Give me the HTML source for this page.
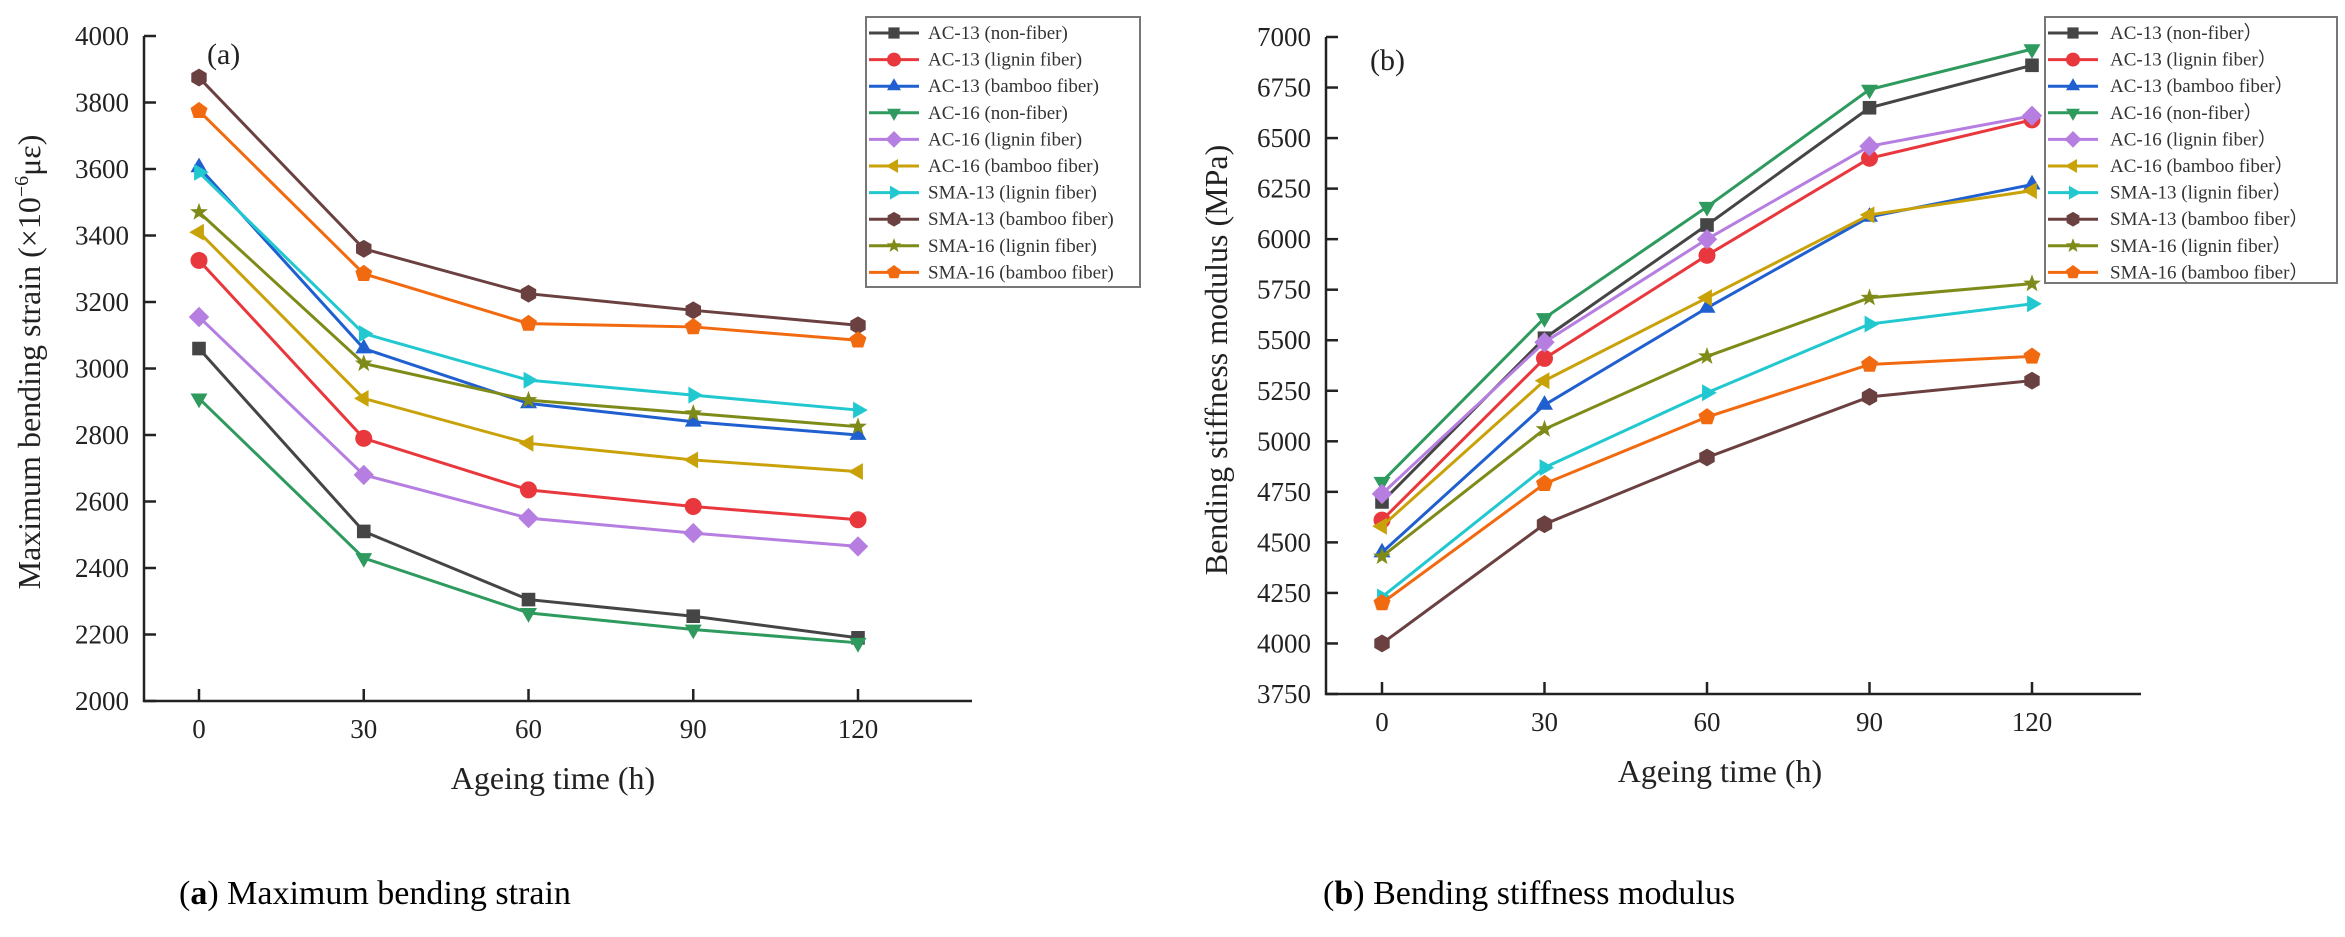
<!DOCTYPE html>
<html><head><meta charset="utf-8"><style>
html,body{margin:0;padding:0;background:#fff;}
svg{display:block;font-family:"Liberation Serif",serif;}
</style></head><body>
<svg id="fig" width="2345" height="937" viewBox="0 0 2345 937">
<g id="chartA"></g>
<g id="chartB"></g>
<text x="179" y="904" font-size="34">(<tspan font-weight="bold">a</tspan>) Maximum bending strain</text>
<text x="1323" y="904" font-size="34">(<tspan font-weight="bold">b</tspan>) Bending stiffness modulus</text>
</svg>
<script>
const xCats = [0, 30, 60, 90, 120];
const seriesNames = ["AC-13 (non-fiber)","AC-13 (lignin fiber)","AC-13 (bamboo fiber)","AC-16 (non-fiber)","AC-16 (lignin fiber)","AC-16 (bamboo fiber)","SMA-13 (lignin fiber)","SMA-13 (bamboo fiber)","SMA-16 (lignin fiber)","SMA-16 (bamboo fiber)"];
const seriesNamesB = ["AC-13 (non-fiber）","AC-13 (lignin fiber）","AC-13 (bamboo fiber）","AC-16 (non-fiber）","AC-16 (lignin fiber）","AC-16 (bamboo fiber）","SMA-13 (lignin fiber）","SMA-13 (bamboo fiber）","SMA-16 (lignin fiber）","SMA-16 (bamboo fiber）"];
const colors = ["#454545","#e8383d","#1f5fcf","#2e9a5e","#b57ee0","#c9a20a","#22c8d0","#6b4040","#7f8b18","#f26a10"];
const markers = ["square","circle","up","down","diamond","left","right","hexagon","star","pentagon"];
const strainAC13n = [3060,2510,2305,2255,2190];
const strainAC13l = [3325,2790,2635,2585,2545];
const strainAC13b = [3605,3060,2895,2840,2800];
const strainAC16n = [2910,2430,2265,2215,2175];
const strainAC16l = [3155,2680,2550,2505,2465];
const strainAC16b = [3410,2910,2775,2725,2690];
const strainSMA13l = [3590,3105,2965,2920,2875];
const strainSMA13b = [3875,3360,3225,3175,3130];
const strainSMA16l = [3470,3015,2905,2865,2825];
const strainSMA16b = [3775,3285,3135,3125,3085];
const modAC13n = [4700,5510,6070,6650,6860];
const modAC13l = [4610,5410,5920,6400,6590];
const modAC13b = [4450,5180,5660,6110,6270];
const modAC16n = [4800,5610,6160,6740,6940];
const modAC16l = [4740,5490,6000,6460,6610];
const modAC16b = [4580,5300,5710,6120,6240];
const modSMA13l = [4230,4870,5240,5580,5680];
const modSMA13b = [4000,4590,4920,5220,5300];
const modSMA16l = [4430,5060,5420,5710,5780];
const modSMA16b = [4200,4790,5120,5380,5420];
const ticksA = [2000,2200,2400,2600,2800,3000,3200,3400,3600,3800,4000];
const ticksB = [3750,4000,4250,4500,4750,5000,5250,5500,5750,6000,6250,6500,6750,7000];

const NS="http://www.w3.org/2000/svg";
function mk(parent,tag,attrs){const e=document.createElementNS(NS,tag);for(const k in attrs)e.setAttribute(k,attrs[k]);parent.appendChild(e);return e;}
function markerPath(type,cx,cy,r){
  const poly=(n,rot,rad)=>{let p=[];for(let i=0;i<n;i++){const a=rot+i*2*Math.PI/n;p.push((cx+rad*Math.cos(a)).toFixed(1)+","+(cy+rad*Math.sin(a)).toFixed(1));}return p.join(" ");};
  switch(type){
    case "square": return ["rect",{x:cx-r*0.8,y:cy-r*0.8,width:r*1.6,height:r*1.6}];
    case "circle": return ["circle",{cx:cx,cy:cy,r:r}];
    case "up": return ["polygon",{points:poly(3,-Math.PI/2,r*1.15)}];
    case "down": return ["polygon",{points:poly(3,Math.PI/2,r*1.15)}];
    case "left": return ["polygon",{points:poly(3,Math.PI,r*1.15)}];
    case "right": return ["polygon",{points:poly(3,0,r*1.15)}];
    case "diamond": return ["polygon",{points:poly(4,0,r*1.2)}];
    case "hexagon": return ["polygon",{points:poly(6,-Math.PI/2,r*1.05)}];
    case "pentagon": return ["polygon",{points:poly(5,-Math.PI/2,r*1.05)}];
    case "star": {let p=[];for(let i=0;i<10;i++){const a=-Math.PI/2+i*Math.PI/5;const rr=i%2?r*0.45:r*1.1;p.push((cx+rr*Math.cos(a)).toFixed(1)+","+(cy+rr*Math.sin(a)).toFixed(1));}return ["polygon",{points:p.join(" ")}];}
  }
}
function drawChart(g,cfg){
  const xs=v=>cfg.x0+(v-xCats[0])/(xCats[xCats.length-1]-xCats[0])*(cfg.x1-cfg.x0);
  const ys=v=>cfg.yBot-(v-cfg.yMin)/(cfg.yMax-cfg.yMin)*(cfg.yBot-cfg.yTop);
  const ax=mk(g,"path",{d:`M${cfg.axX},${cfg.yTop} L${cfg.axX},${cfg.yBot} L${cfg.axEnd},${cfg.yBot}`,fill:"none",stroke:"#222","stroke-width":2.5});
  
  
  cfg.ticks.forEach(t=>{
    const y=ys(t);
    mk(g,"line",{x1:cfg.axX,x2:cfg.axX+12,y1:y,y2:y,stroke:"#222","stroke-width":2.5});
    const tl=mk(g,"text",{x:cfg.axX-15,y:y+9,"font-size":27,"text-anchor":"end",fill:"#222"});
    tl.textContent=t;
    
    
  });
  xCats.forEach(c=>{
    const x=xs(c);
    mk(g,"line",{x1:x,x2:x,y1:cfg.yBot,y2:cfg.yBot-12,stroke:"#222","stroke-width":2.5});
    const tl=mk(g,"text",{x:x,y:cfg.yBot+37,"font-size":27,"text-anchor":"middle",fill:"#222"});
    tl.textContent=c;
    
    
  });
  const xt=mk(g,"text",{x:cfg.xTitleX,y:cfg.yBot+88,"font-size":32,"text-anchor":"middle",fill:"#222"});
  xt.textContent="Ageing time (h)";
  
  
  const yt=mk(g,"text",{x:0,y:0,"font-size":32,"text-anchor":"middle",fill:"#222",transform:`translate(${cfg.yTitleX},${cfg.yTitleY}) rotate(-90)`});
  yt.innerHTML=cfg.yTitle;
  
  
  const pl=mk(g,"text",{x:cfg.panelX,y:cfg.panelY,"font-size":30,fill:"#222"});
  pl.textContent=cfg.panel;
  
  
  cfg.data.forEach((vals,i)=>{
    const sg=mk(g,"g",{});
    
    
    mk(sg,"polyline",{points:vals.map((v,j)=>xs(xCats[j])+","+ys(v)).join(" "),fill:"none",stroke:colors[i],"stroke-width":3});
    vals.forEach((v,j)=>{
      const [tag,at]=markerPath(markers[i],xs(xCats[j]),ys(v),8.5);
      at.fill=colors[i];
      const m=mk(sg,tag,at);
      
      
    });
  });
  const lg=mk(g,"g",{});
  
  
  mk(lg,"rect",{x:cfg.lgX,y:cfg.lgY,width:cfg.lgW,height:cfg.lgH,fill:"#fff",stroke:"#777","stroke-width":2});
  cfg.names.forEach((n,i)=>{
    const cy=cfg.lgY+16+i*26.6;
    const e=mk(lg,"g",{});
    
    
    mk(e,"line",{x1:cfg.lgX+3,x2:cfg.lgX+53,y1:cy,y2:cy,stroke:colors[i],"stroke-width":3});
    const [tag,at]=markerPath(markers[i],cfg.lgX+28,cy,7);
    at.fill=colors[i];
    mk(e,tag,at);
    const t=mk(e,"text",{x:cfg.lgX+cfg.lgTx,y:cy+6,"font-size":19,fill:"#333"});
    t.textContent=n;
  });
}
drawChart(document.getElementById("chartA"),{
  x0:199,x1:858,axX:144,axEnd:972,yTop:36,yBot:701,yMin:2000,yMax:4000,ticks:ticksA,
  data:[strainAC13n,strainAC13l,strainAC13b,strainAC16n,strainAC16l,strainAC16b,strainSMA13l,strainSMA13b,strainSMA16l,strainSMA16b],
  xTitleX:553,yTitleX:40,yTitleY:362,yTitle:'Maximum bending strain (×10<tspan dy="-12" font-size="20">−6</tspan><tspan dy="12">με)</tspan>',
  panel:"(a)",panelX:207,panelY:64,names:seriesNames,
  lgX:866,lgY:17,lgW:274,lgH:270,lgTx:62
});
drawChart(document.getElementById("chartB"),{
  x0:1382,x1:2032,axX:1326,axEnd:2141,yTop:37,yBot:694,yMin:3750,yMax:7000,ticks:ticksB,
  data:[modAC13n,modAC13l,modAC13b,modAC16n,modAC16l,modAC16b,modSMA13l,modSMA13b,modSMA16l,modSMA16b],
  xTitleX:1720,yTitleX:1227,yTitleY:360,yTitle:'Bending stiffness modulus (MPa)',
  panel:"(b)",panelX:1370,panelY:70,names:seriesNamesB,
  lgX:2045,lgY:17,lgW:292,lgH:266,lgTx:65
});
</script>
</body></html>
